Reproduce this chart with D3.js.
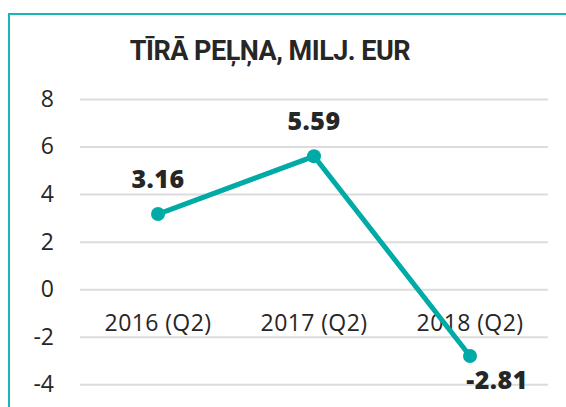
<!DOCTYPE html>
<html>
<head>
<meta charset="utf-8">
<script src="https://cdn.jsdelivr.net/npm/d3@7"></script>
<style>
  body { margin: 0; background: #fff; }
  svg { display: block; }
</style>
</head>
<body>
<svg width="566" height="407"></svg>
<script>
(() => {

    const titleText = 'TĪRĀ PEĻŅA, MILJ. EUR';
    const categories = ['2016 (Q2)', '2017 (Q2)', '2018 (Q2)'];
    const values = [3.16, 5.59, -2.81];
    const yTicks = [-4, -2, 0, 2, 4, 6, 8];

    const svg = d3.select('svg'),
            width = +svg.attr('width'),
            height = +svg.attr('height');

    const teal = '#00aaa6';
    const ink = '#262626';

    // frame
    svg.append('path')
            .attr('d', `M9,${height + 5} L9,14 L${width + 5},14`)
            .attr('fill', 'none')
            .attr('stroke', '#1bb6b4')
            .attr('stroke-width', 2);

    svg.append('text')
            .attr('x', 270)
            .attr('y', 60)
            .attr('text-anchor', 'middle')
            .attr('font-family', 'Roboto, sans-serif')
            .attr('font-weight', 'bold')
            .attr('font-size', '27px')
            .attr('letter-spacing', '-0.5px')
            .attr('fill', ink)
            .text(titleText);

    const x = d3.scalePoint()
            .domain(categories)
            .range([80, 548])
            .padding(0.5);

    const y = d3.scaleLinear()
            .domain([-4, 8])
            .range([384.3, 99]);

    const grid = svg.append('g')
            .attr('transform', 'translate(80,0)')
            .call(d3.axisLeft(y).tickValues(yTicks).tickSize(-468).tickFormat(d => d < 0 ? '-' + Math.abs(d) : d));

    grid.select('.domain').remove();
    grid.selectAll('.tick line')
            .attr('stroke', '#dcdcdc')
            .attr('stroke-width', 2);
    grid.selectAll('.tick text')
            .attr('x', -26)
            .attr('fill', ink)
            .attr('font-family', '"Open Sans", sans-serif')
            .attr('font-size', '23px');

    svg.append('g')
            .selectAll('text')
            .data(categories)
            .enter().append('text')
            .attr('x', d => x(d))
            .attr('y', 331)
            .attr('text-anchor', 'middle')
            .attr('fill', ink)
            .attr('font-family', '"Open Sans", sans-serif')
            .attr('font-size', '23px')
            .attr('letter-spacing', '0.4px')
            .text(d => d);

    const line = d3.line()
            .x((d, i) => x(categories[i]))
            .y(d => y(d));

    svg.append('path')
            .datum(values)
            .attr('d', line)
            .attr('fill', 'none')
            .attr('stroke', teal)
            .attr('stroke-width', 5);

    svg.append('g')
            .selectAll('circle')
            .data(values)
            .enter().append('circle')
            .attr('cx', (d, i) => x(categories[i]))
            .attr('cy', d => y(d))
            .attr('r', 7)
            .attr('fill', teal);

    // value labels: above for positives, below-right for the negative one
    svg.append('g')
            .selectAll('text')
            .data(values)
            .enter().append('text')
            .attr('x', (d, i) => x(categories[i]) + (d < 0 ? 27 : 0))
            .attr('y', d => d < 0 ? y(d) + 33 : y(d) - 26)
            .attr('text-anchor', 'middle')
            .attr('fill', ink)
            .attr('font-family', '"Open Sans", sans-serif')
            .attr('font-weight', '800')
            .attr('font-size', '25px')
            .attr('letter-spacing', '0.5px')
            .text(d => d.toFixed(2));

})();
</script>
</body>
</html>
